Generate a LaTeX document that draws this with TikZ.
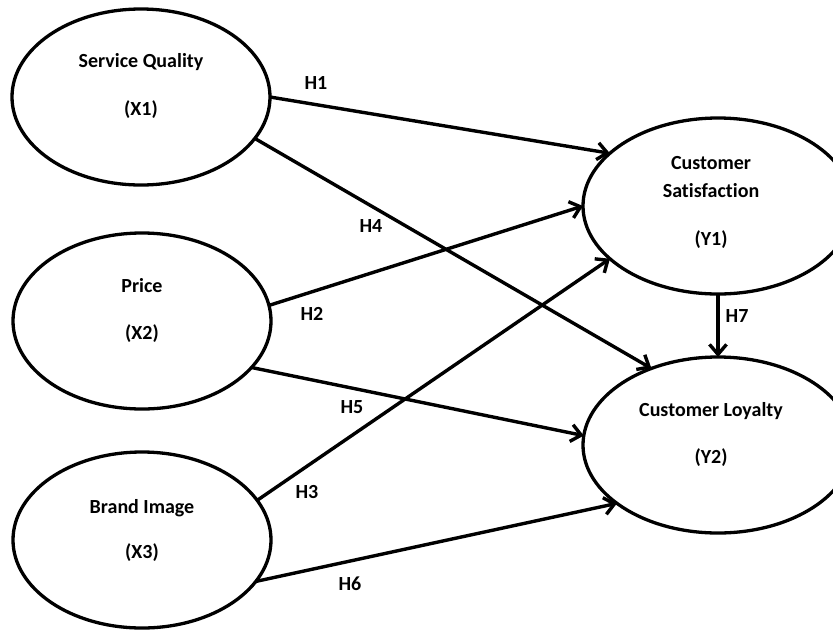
\documentclass[tikz,border=0pt]{standalone}
\usepackage{fontspec}
\setmainfont{Carlito}[Ligatures=NoCommon]
\usetikzlibrary{arrows.meta,shapes.geometric}
\begin{document}
\begin{tikzpicture}[x=1pt,y=-1pt,
  font=\fontsize{20}{24}\selectfont\bfseries,
  xvar/.style={draw, ellipse, line width=3.3pt, inner sep=0pt, outer sep=0pt,
    minimum width=258pt, minimum height=176pt},
  yvar/.style={draw, ellipse, line width=3.3pt, inner sep=0pt, outer sep=0pt,
    minimum width=270pt, minimum height=176pt},
  path/.style={line width=3.4pt, -{Straight Barb[length=10pt,width=17pt]}},
  hyp/.style={inner sep=0pt}]
\useasboundingbox (0,0) rectangle (833,630);
\clip (0,0) rectangle (833,630);

\node[xvar, label={[align=center, yshift=11pt]center:Service Quality\\[23.5pt](X1)}] (x1) at (141,97) {};
\node[xvar, label={[align=center, yshift=10.5pt]center:Price\\[23.5pt](X2)}] (x2) at (142,321) {};
\node[xvar, label={[align=center, yshift=9.5pt]center:Brand Image\\[21.5pt](X3)}] (x3) at (142,540) {};
\node[yvar, label={[align=center, xshift=-7pt, yshift=3.5pt]center:Customer\\[4pt]Satisfaction\\[23.5pt](Y1)}] (y1) at (718,206) {};
\node[yvar, label={[align=center, xshift=-7pt, yshift=10.5pt]center:Customer Loyalty\\[23.5pt](Y2)}] (y2) at (718,445) {};

\draw[path] (x1.0) -- (y1.154.7);
\draw[path] (x1.-20.5) -- (y2.131);
\draw[path] (x2.7.6) -- (y1.180);
\draw[path] (x2.-23) -- (y2.176.7);
\draw[path] (x3.19) -- (y1.206.6);
\draw[path] (x3.-20.7) -- (y2.210.5);
\draw[path] (y1.south) -- (y2.north);

\node[hyp] (h1) at (316,83) {H1};
\node[hyp] (h4) at (371,226) {H4};
\node[hyp] (h2) at (312,314) {H2};
\node[hyp] (h5) at (352,407) {H5};
\node[hyp] (h3) at (307,492) {H3};
\node[hyp] (h6) at (350,584) {H6};
\node[hyp] (h7) at (737,316) {H7};
\end{tikzpicture}
\end{document}
